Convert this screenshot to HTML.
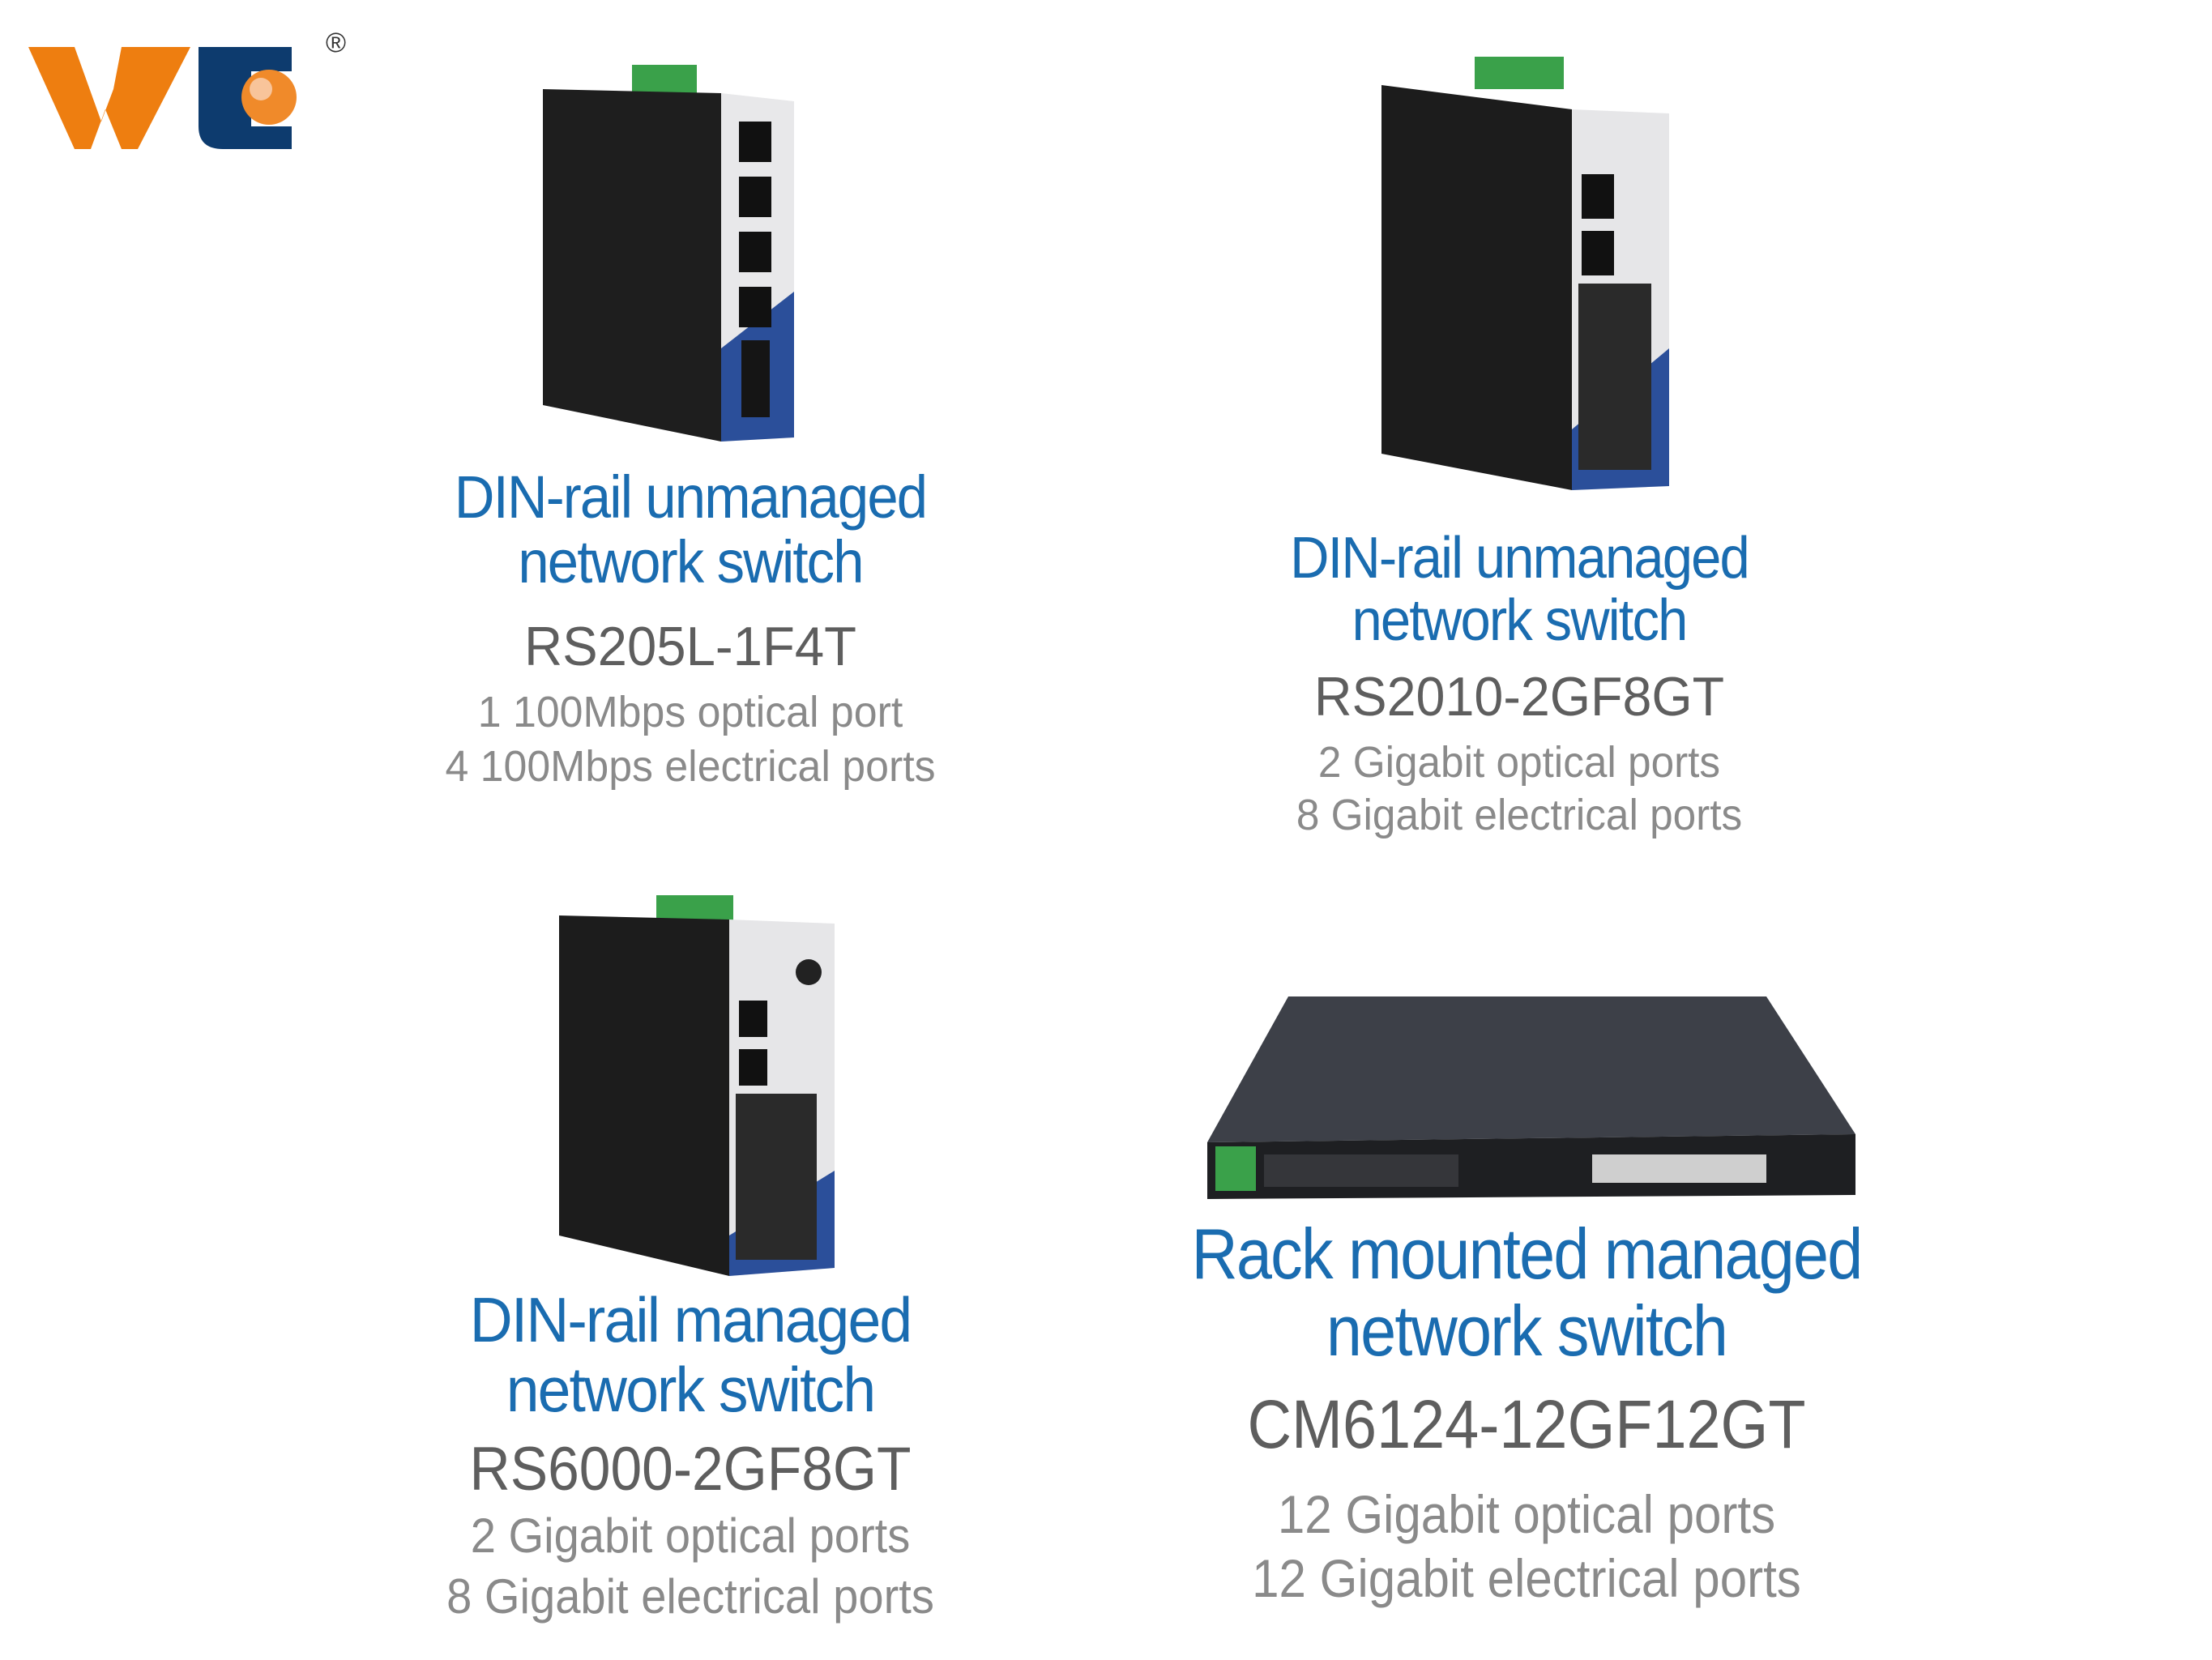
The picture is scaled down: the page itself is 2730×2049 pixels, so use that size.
<!DOCTYPE html>
<html><head><meta charset="utf-8"><style>
html,body{margin:0;padding:0;background:#fff}
body{width:2730px;height:2049px;position:relative;overflow:hidden;font-family:"Liberation Sans Narrow","Liberation Sans",sans-serif}
.t{position:absolute;width:1200px;text-align:center;white-space:nowrap;line-height:1;transform-origin:center}
.b{color:#1a6cb0;letter-spacing:-2px}
.m{color:#5e5e5e}
.s{color:#8a8a8a}
svg{position:absolute}
</style></head><body>

<!-- logo -->
<svg style="left:30px;top:40px" width="400" height="160" viewBox="0 0 400 160">
  <polygon points="5,18 62,18 95,110 110,70 120,18 205,18 140,144 120,144 100,95 82,144 62,144" fill="#ee7e10"/>
  <path d="M215,18 H330 V48 H280 V116 H330 V144 H245 Q215,144 215,116 Z" fill="#0d3b6e"/>
  <circle cx="302" cy="80" r="34" fill="#f08a2a"/>
  <circle cx="292" cy="70" r="14" fill="#f8c49a"/>
  <text x="372" y="24" font-family="Liberation Sans" font-size="34" fill="#333">®</text>
</svg>

<!-- device 1 -->
<svg style="left:640px;top:70px" width="400" height="500" viewBox="0 0 400 500">
  <rect x="140" y="10" width="80" height="35" fill="#3aa14a"/>
  <polygon points="30,40 250,45 250,475 30,430" fill="#1e1e1e"/>
  <polygon points="250,45 340,55 340,470 250,475" fill="#e8e8ea"/>
  <polygon points="250,360 340,290 340,470 250,475" fill="#2b4f9a"/>
  <rect x="272" y="80" width="40" height="50" fill="#111"/>
  <rect x="272" y="148" width="40" height="50" fill="#111"/>
  <rect x="272" y="216" width="40" height="50" fill="#111"/>
  <rect x="272" y="284" width="40" height="50" fill="#111"/>
  <rect x="275" y="350" width="35" height="95" fill="#151515"/>
</svg>

<!-- device 2 -->
<svg style="left:1690px;top:60px" width="400" height="560" viewBox="0 0 400 560">
  <rect x="130" y="10" width="110" height="40" fill="#3aa14a"/>
  <polygon points="15,45 250,75 250,545 15,500" fill="#1c1c1c"/>
  <polygon points="250,75 370,80 370,540 250,545" fill="#e6e6e8"/>
  <polygon points="250,470 370,370 370,540 250,545" fill="#2b4f9a"/>
  <rect x="262" y="155" width="40" height="55" fill="#111"/>
  <rect x="262" y="225" width="40" height="55" fill="#111"/>
  <rect x="258" y="290" width="90" height="230" fill="#2a2a2a"/>
</svg>

<!-- device 3 -->
<svg style="left:680px;top:1105px" width="380" height="480" viewBox="0 0 380 480">
  <rect x="130" y="0" width="95" height="35" fill="#3aa14a"/>
  <polygon points="10,25 220,30 220,470 10,420" fill="#1c1c1c"/>
  <polygon points="220,30 350,35 350,460 220,470" fill="#e6e6e8"/>
  <polygon points="220,420 350,340 350,460 220,470" fill="#2b4f9a"/>
  <circle cx="318" cy="95" r="16" fill="#222"/>
  <rect x="232" y="130" width="35" height="45" fill="#111"/>
  <rect x="232" y="190" width="35" height="45" fill="#111"/>
  <rect x="228" y="245" width="100" height="205" fill="#2a2a2a"/>
</svg>

<!-- device 4 -->
<svg style="left:1480px;top:1210px" width="820" height="300" viewBox="0 0 820 300">
  <polygon points="110,20 700,20 810,190 10,200" fill="#3d4048"/>
  <polygon points="10,200 810,190 810,265 10,270" fill="#1e1f22"/>
  <rect x="20" y="205" width="50" height="55" fill="#3aa14a"/>
  <rect x="80" y="215" width="240" height="40" fill="#35363a"/>
  <rect x="485" y="215" width="215" height="35" fill="#cfcfcf"/>
</svg>

<!-- text card 1 -->
<div class="t b" style="left:252px;top:577px;font-size:74px;transform:scaleX(0.93)">DIN-rail unmanaged</div>
<div class="t b" style="left:252px;top:657px;font-size:74px;transform:scaleX(0.93)">network switch</div>
<div class="t m" style="left:252px;top:764px;font-size:68px;transform:scaleX(0.96)">RS205L-1F4T</div>
<div class="t s" style="left:252px;top:852px;font-size:54px;transform:scaleX(0.96)">1 100Mbps optical port</div>
<div class="t s" style="left:252px;top:919px;font-size:54px;transform:scaleX(0.96)">4 100Mbps electrical ports</div>

<!-- card 2 -->
<div class="t b" style="left:1275px;top:653px;font-size:72px;transform:scaleX(0.93)">DIN-rail unmanaged</div>
<div class="t b" style="left:1275px;top:730px;font-size:72px;transform:scaleX(0.93)">network switch</div>
<div class="t m" style="left:1275px;top:826px;font-size:68px;transform:scaleX(0.95)">RS2010-2GF8GT</div>
<div class="t s" style="left:1275px;top:914px;font-size:54px;transform:scaleX(0.95)">2 Gigabit optical ports</div>
<div class="t s" style="left:1275px;top:979px;font-size:54px;transform:scaleX(0.95)">8 Gigabit electrical ports</div>

<!-- card 3 -->
<div class="t b" style="left:252px;top:1590px;font-size:78px;transform:scaleX(0.94)">DIN-rail managed</div>
<div class="t b" style="left:252px;top:1676px;font-size:78px;transform:scaleX(0.94)">network switch</div>
<div class="t m" style="left:252px;top:1776px;font-size:76px;transform:scaleX(0.915)">RS6000-2GF8GT</div>
<div class="t s" style="left:252px;top:1866px;font-size:60px;transform:scaleX(0.935)">2 Gigabit optical ports</div>
<div class="t s" style="left:252px;top:1941px;font-size:60px;transform:scaleX(0.935)">8 Gigabit electrical ports</div>

<!-- card 4 -->
<div class="t b" style="left:1284px;top:1504px;font-size:88px;transform:scaleX(0.9)">Rack mounted managed</div>
<div class="t b" style="left:1284px;top:1599px;font-size:88px;transform:scaleX(0.9)">network switch</div>
<div class="t m" style="left:1284px;top:1716px;font-size:84px;transform:scaleX(0.9)">CM6124-12GF12GT</div>
<div class="t s" style="left:1284px;top:1836px;font-size:66px;transform:scaleX(0.91)">12 Gigabit optical ports</div>
<div class="t s" style="left:1284px;top:1915px;font-size:66px;transform:scaleX(0.91)">12 Gigabit electrical ports</div>

</body></html>
